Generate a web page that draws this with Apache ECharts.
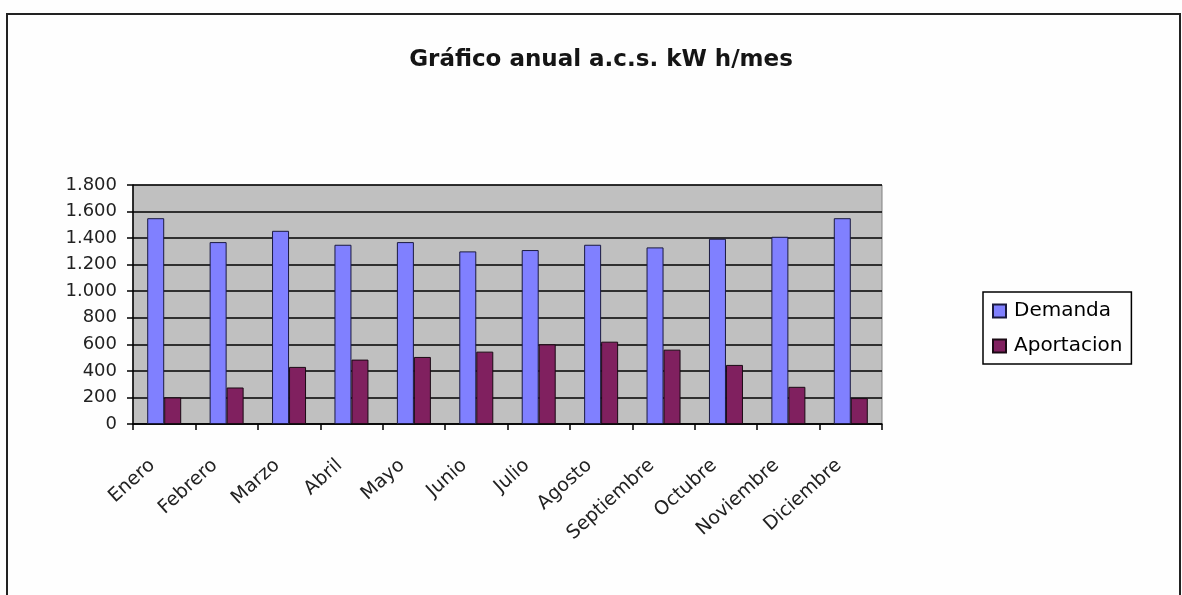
<!DOCTYPE html>
<html>
<head>
<meta charset="utf-8">
<style>
  html, body { margin: 0; padding: 0; background: #fefefe; }
  #chart { width: 1182px; height: 595px; }
</style>
<script src="https://cdn.jsdelivr.net/npm/echarts@6/dist/echarts.min.js"></script>
</head>
<body>
<div id="chart"></div>
<script>
// Monthly domestic hot water: demand vs solar contribution (kWh/month)
const meses = ['Enero', 'Febrero', 'Marzo', 'Abril', 'Mayo', 'Junio', 'Julio',
               'Agosto', 'Septiembre', 'Octubre', 'Noviembre', 'Diciembre'];
const demanda    = [1550, 1370, 1455, 1350, 1370, 1300, 1310, 1350, 1330, 1395, 1410, 1550];
const aportacion = [200, 275, 430, 485, 505, 545, 600, 620, 560, 445, 280, 195];
const serieNombres = ['Demanda', 'Aportacion'];
const titulo = 'Gráfico anual a.c.s. kW h/mes';

const FONT = '"DejaVu Sans", "Liberation Sans", Arial, sans-serif';

// 1800 -> "1.800"
function miles(v) {
  return String(v).replace(/\B(?=(\d{3})+(?!\d))/g, '.');
}

const chart = echarts.init(document.getElementById('chart'), null, { renderer: 'canvas' });

chart.setOption({
  backgroundColor: '#fefefe',
  animation: false,
  textStyle: { fontFamily: FONT, color: '#000' },
  title: {
    text: titulo,
    left: 596,
    top: 44,
    textAlign: 'center',
    textStyle: { fontFamily: FONT, fontSize: 23, fontWeight: 'bold', color: '#151515' }
  },
  graphic: [{
    type: 'rect',
    silent: true,
    shape: { x: 7, y: 14, width: 1173, height: 700 },
    style: { fill: 'none', stroke: '#222', lineWidth: 2 }
  }],
  legend: {
    orient: 'vertical',
    left: 983,
    top: 292,
    padding: [9, 9, 8, 9],
    itemGap: 15,
    itemWidth: 13,
    itemHeight: 13,
    icon: 'rect',
    borderColor: '#000',
    borderWidth: 1.5,
    backgroundColor: '#fefefe',
    textStyle: { fontFamily: FONT, fontSize: 20, color: '#000', padding: [0, 0, 0, 3] },
    data: serieNombres
  },
  grid: {
    left: 133,
    top: 185,
    width: 749,
    height: 239,
    show: true,
    backgroundColor: '#c0c0c0',
    borderColor: '#808080',
    borderWidth: 1
  },
  xAxis: {
    type: 'category',
    data: meses,
    axisLine: { lineStyle: { color: '#000', width: 1.5 } },
    axisTick: { show: true, length: 6, lineStyle: { color: '#000', width: 1.5 } },
    axisLabel: {
      interval: 0,
      rotate: 42,
      margin: 28,
      padding: [0, 16, 0, 0],
      fontFamily: FONT,
      fontSize: 19,
      color: '#222'
    }
  },
  yAxis: {
    type: 'value',
    min: 0,
    max: 1800,
    interval: 200,
    axisLine: { show: true, lineStyle: { color: '#000', width: 1.5 } },
    axisTick: { show: true, length: 6, lineStyle: { color: '#000', width: 1.5 } },
    splitLine: { show: true, lineStyle: { color: '#000', width: 1.5 } },
    axisLabel: {
      margin: 16,
      fontFamily: FONT,
      fontSize: 18,
      color: '#222',
      formatter: miles
    }
  },
  series: [
    {
      name: serieNombres[0],
      type: 'bar',
      data: demanda,
      barWidth: 17,
      barGap: '0%',
      itemStyle: { color: '#8080ff', borderColor: '#1a1a40', borderWidth: 1 }
    },
    {
      name: serieNombres[1],
      type: 'bar',
      data: aportacion,
      barWidth: 17,
      barGap: '0%',
      itemStyle: { color: '#80205f', borderColor: '#1a0a14', borderWidth: 1 }
    }
  ]
});
</script>
</body>
</html>
